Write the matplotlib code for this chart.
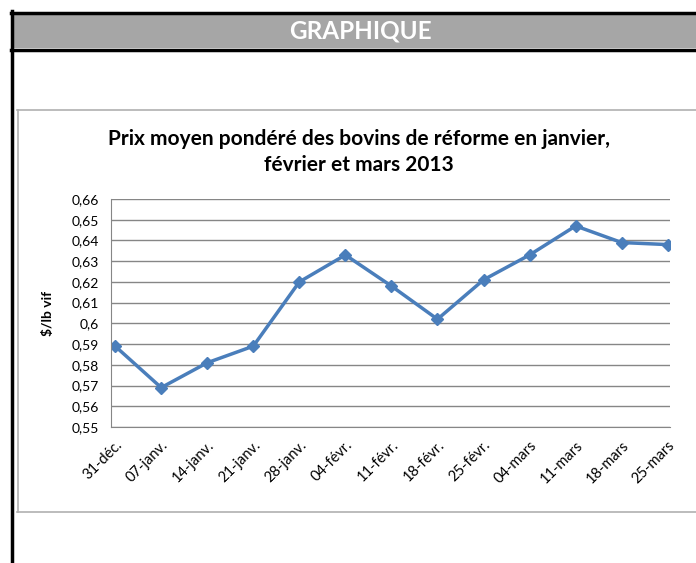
import matplotlib
matplotlib.use("Agg")
import matplotlib.pyplot as plt
from matplotlib.patches import Rectangle
from matplotlib.lines import Line2D

# data
weeks = ["31-déc.", "07-janv.", "14-janv.", "21-janv.", "28-janv.", "04-févr.",
         "11-févr.", "18-févr.", "25-févr.", "04-mars", "11-mars", "18-mars", "25-mars"]
prices = [0.589, 0.569, 0.581, 0.589, 0.620, 0.633, 0.618,
          0.602, 0.621, 0.633, 0.647, 0.639, 0.638]
yticks = [0.55, 0.56, 0.57, 0.58, 0.59, 0.60, 0.61, 0.62, 0.63, 0.64, 0.65, 0.66]
ytick_labels = ["0,55", "0,56", "0,57", "0,58", "0,59", "0,6", "0,61",
                "0,62", "0,63", "0,64", "0,65", "0,66"]

plt.rcParams["font.family"] = ["Lato", "DejaVu Sans"]

W, H = 696, 563
fig = plt.figure(figsize=(W / 100, H / 100), dpi=100)


def fx(x):
    return x / W


def fy(y):
    return 1 - y / H


# header band + black frame
fig.add_artist(Rectangle((fx(13), fy(48)), fx(700), 34 / H, transform=fig.transFigure,
                         facecolor="#a6a6a6", edgecolor="none"))
fig.text(fx(360), fy(31), "GRAPHIQUE", color="white", fontsize=17.5, fontweight="bold",
         ha="center", va="center")
for (x0, y0, x1, y1) in [(11, 12.5, 700, 12.5), (11, 49.5, 700, 49.5), (11.5, 11, 11.5, 570)]:
    fig.add_artist(Line2D([fx(x0), fx(x1)], [fy(y0), fy(y1)], transform=fig.transFigure,
                          color="black", linewidth=2.5))

# chart frame
for (x0, y0, x1, y1) in [(17, 110, 700, 110), (17.5, 110, 17.5, 512), (17, 512, 700, 512)]:
    fig.add_artist(Line2D([fx(x0), fx(x1)], [fy(y0), fy(y1)], transform=fig.transFigure,
                          color="#b0b0b0", linewidth=1.2))

fig.text(fx(359), fy(139), "Prix moyen pondéré des bovins de réforme en janvier,",
         fontsize=15, fontweight="bold", ha="center", va="center")
fig.text(fx(359), fy(165), "février et mars 2013",
         fontsize=15, fontweight="bold", ha="center", va="center")

ax = fig.add_axes([fx(111), fy(427), (670 - 111) / W, (427 - 199) / H])
x = list(range(len(weeks)))
ax.plot(x, prices, color="#4a7ebb", linewidth=2.5, marker="D", markersize=6)

ax.set_ylim(0.55, 0.66)
ax.set_xlim(-0.09, 12.05)
ax.set_yticks(yticks)
ax.set_yticklabels(ytick_labels, fontsize=10)
ax.set_xticks(x)
ax.set_xticklabels(weeks, rotation=45, ha="right", rotation_mode="anchor", fontsize=10.5)
ax.tick_params(axis="y", length=0, pad=9)
ax.tick_params(axis="x", length=0, pad=8)
ax.grid(axis="y", color="#868686", linewidth=1)
ax.set_axisbelow(True)
for s in ["top", "right"]:
    ax.spines[s].set_visible(False)
ax.spines["left"].set_color("#868686")
ax.spines["bottom"].set_color("#868686")
ax.set_ylabel(r"\$/lb vif", fontsize=10, fontweight="bold", labelpad=12)

fig.savefig("out.png", dpi=100)
